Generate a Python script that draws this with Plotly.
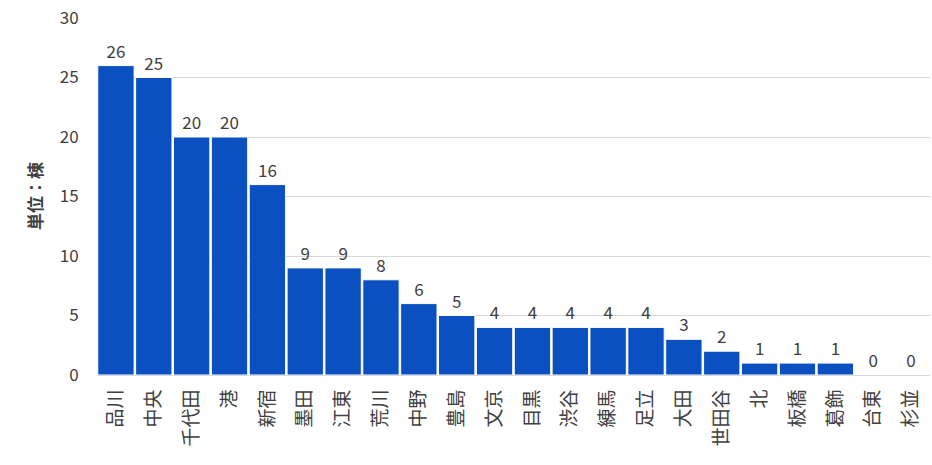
import plotly.graph_objects as go

wards = ["品川", "中央", "千代田", "港", "新宿", "墨田", "江東", "荒川", "中野", "豊島", "文京",
         "目黒", "渋谷", "練馬", "足立", "大田", "世田谷", "北", "板橋", "葛飾", "台東", "杉並"]
counts = [26, 25, 20, 20, 16, 9, 9, 8, 6, 5, 4, 4, 4, 4, 4, 3, 2, 1, 1, 1, 0, 0]
y_ticks = [0, 5, 10, 15, 20, 25, 30]

font_family = "Noto Sans CJK JP, Noto Sans, sans-serif"

fig = go.Figure(go.Bar(
    x=wards, y=counts,
    marker=dict(color="#0B50C0", line=dict(color="white", width=1)),
    text=[str(v) for v in counts], textposition="outside",
    textfont=dict(size=17, color="#404040", family=font_family),
    cliponaxis=False,
))

fig.update_layout(
    width=932, height=465,
    margin=dict(l=97, r=2, t=18, b=90),
    paper_bgcolor="white", plot_bgcolor="white",
    bargap=0.04, showlegend=False,
    font=dict(family=font_family, color="#404040"),
    xaxis=dict(tickangle=-90, tickfont=dict(size=19, color="#404040"),
               showline=True, linecolor="#d9d9d9", showgrid=False,
               ticks="outside", ticklen=6, tickcolor="rgba(0,0,0,0)"),
    yaxis=dict(range=[0, 30], tickvals=y_ticks, tickfont=dict(size=17, color="#404040"),
               showgrid=True, gridcolor="#d9d9d9", zeroline=False,
               ticks="outside", ticklen=14, tickcolor="rgba(0,0,0,0)"),
    annotations=[dict(text="<b>単位：棟</b>", textangle=-90, xref="paper", yref="paper",
                      x=-0.075, y=0.5, xanchor="center", yanchor="middle", showarrow=False,
                      font=dict(size=17, color="#404040"))],
)

fig.write_html("out.html")
